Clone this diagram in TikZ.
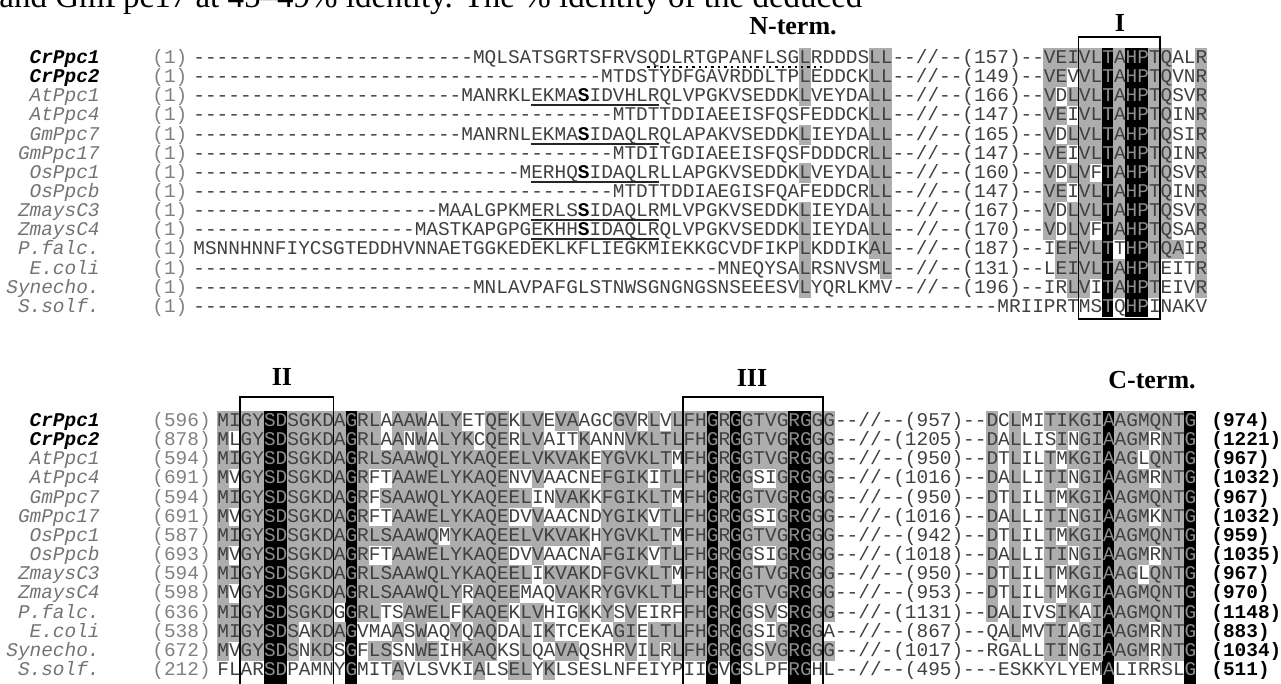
\documentclass[tikz,border=0pt]{standalone}
\usepackage{fontspec}
\setmainfont{Liberation Serif}
\setmonofont{Liberation Mono}
\usetikzlibrary{positioning}

\definecolor{seqtext}{gray}{0.25}
\definecolor{cellgray}{gray}{0.68}
\definecolor{labgray}{gray}{0.45}
\definecolor{numgray}{gray}{0.5}
\definecolor{idtext}{gray}{0.55}

\newcommand\seqfont{\ttfamily\fontsize{9.71}{10}\selectfont}
\newcommand\gap[1]{\ifnum#1>0 \foreach\g in {1,...,#1}{-}\fi}

% grey cells from a mask: g = shaded, . = plain (spaces are skipped)
\newcount\cellcol
\newcommand\graycells[4]{%
  \def\cellx{#1}\def\celly{#2}\cellcol=#3\relax
  \expandafter\cellscan#4\relax}
\def\cellscan#1{%
  \ifx#1\relax\else
    \if g#1\fill[cellgray] ({\cellx+(\the\cellcol-1)*\cw},{\celly-\rh/2}) rectangle ++(\cw+0.4,\rh+0.4);\fi
    \advance\cellcol by 1
    \expandafter\cellscan
  \fi}

% residues one by one: light on the identical columns, bold on the key serine
\newcount\rescol
\newcommand\residues[2]{\rescol=#1\relax\advance\rescol by 1
  \expandafter\reswalk#2\relax}
\def\reswalk#1{%
  \ifx#1\relax\else
    \ifnum\rescol=\keycol\relax{\bfseries\color{black}#1}%
    \else\ifcsname id\idblock\the\rescol\endcsname{\color{idtext}#1}\else#1\fi\fi
    \advance\rescol by 1
    \expandafter\reswalk
  \fi}
\def\keycol{0}

\begin{document}
\begin{tikzpicture}[x=0.5pt, y=-0.5pt,
    seq/.style={anchor=base west, inner sep=0pt, font=\seqfont, text=seqtext},
    num/.style={anchor=base west, inner sep=0pt, font=\seqfont, text=numgray},
    endnum/.style={anchor=base west, inner sep=0pt, font=\seqfont\bfseries, text=black},
    lab/.style={anchor=base east, inner sep=0pt, font=\seqfont\itshape, text=labgray},
    motif/.style={inner sep=0pt, font=\fontsize{13}{15}\selectfont\bfseries},
    motifbox/.style={draw=black, line width=0.9pt},
    motifline/.style={draw=black!85, line width=1pt},
    idcol/.style={fill=black}
]
\useasboundingbox (0,0) rectangle (1281,684);
\clip (0,0) rectangle (1281,684);
\def\cw{11.65}
\def\rh{19.15}
\def\bl{5.5}

% running text above the figure
\node[anchor=base west, inner sep=0pt, font=\fontsize{16.5}{18}\selectfont] (intro) at (-1,8)
  {and GmPpc17 at 45–49\% identity. The \% identity of the deduced};

% headings
\node[motif] (nterm) at (793,26) {N-term.};
\node[motif] (m1) at (1120,23) {I};
\node[motif] (m2) at (282,377) {II};
\node[motif] (m3) at (752,378) {III};
\node[motif] (cterm) at (1152,380) {C-term.};

% sequence names
\foreach \lab [count=\i] in {CrPpc1,CrPpc2,AtPpc1,AtPpc4,GmPpc7,GmPpc17,OsPpc1,OsPpcb,ZmaysC3,ZmaysC4,P.falc.,E.coli,Synecho.,S.solf.}{
  \ifnum\i<3 \tikzset{lab/.append style={font=\seqfont\bfseries\itshape, text=black}}\fi
  \node[lab] (labA\i) at (100,{58+(\i-1)*\rh+\bl}) {\lab};
  \node[lab] (labB\i) at (100,{421+(\i-1)*\rh+\bl}) {\lab};
  \node[num] (numA\i) at (152,{58+(\i-1)*\rh+\bl}) {(1)};
}

% identical columns
\foreach \c in {79,81,82}{
  \expandafter\gdef\csname idA\c\endcsname{}
  \fill[idcol] ({193+(\c-1)*\cw},{58-\rh/2}) rectangle ++(\cw,{14*\rh});
}
\foreach \c in {5,6,12,43,45,50,51,77,84}{
  \expandafter\gdef\csname idB\c\endcsname{}
  \fill[idcol] ({217+(\c-1)*\cw},{421-\rh/2}) rectangle ++(\cw,{15*\rh});
}

% block 1: N-terminus and motif I
\def\idblock{A}
\foreach \d/\k/\seq/\ma/\mb [count=\i] in {
  24/0/{MQLSATSGRTSFRVSQDLRTGPANFLSGLRDDDSLL--//--(157)--VEIVLTAHPTQALR}/{g.....gg}/{ggggg.g..gg..g},
  35/0/{MTDSTYDFGAVRDDLTPLEDDCKLL--//--(149)--VEVVLTAHPTQVNR}/{g.....gg}/{gg.gg.g..gg..g},
  23/34/{MANRKLEKMASIDVHLRQLVPGKVSEDDKLVEYDALL--//--(166)--VDLVLTAHPTQSVR}/{g.....gg}/{g.ggg.g..gg..g},
  36/0/{MTDTTDDIAEEISFQSFEDDCKLL--//--(147)--VEIVLTAHPTQINR}/{......gg}/{gg.gg.g..gg..g},
  23/34/{MANRNLEKMASIDAQLRQLAPAKVSEDDKLIEYDALL--//--(165)--VDLVLTAHPTQSIR}/{g.....gg}/{g.ggg.g..gg..g},
  36/0/{MTDITGDIAEEISFQSFDDDCRLL--//--(147)--VEIVLTAHPTQINR}/{......gg}/{gg.gg.g..gg..g},
  28/34/{MERHQSIDAQLRLLAPGKVSEDDKLVEYDALL--//--(160)--VDLVFTAHPTQSVR}/{g.....gg}/{g.gg..g..gg..g},
  36/0/{MTDTTDDIAEGISFQAFEDDCRLL--//--(147)--VEIVLTAHPTQINR}/{......gg}/{gg.gg.g..gg..g},
  21/34/{MAALGPKMERLSSIDAQLRMLVPGKVSEDDKLIEYDALL--//--(167)--VDLVLTAHPTQSVR}/{g.....gg}/{g.ggg.g..gg..g},
  19/34/{MASTKAPGPGEKHHSIDAQLRQLVPGKVSEDDKLIEYDALL--//--(170)--VDLVFTAHPTQSAR}/{g.....gg}/{g.gg..g..gg..g},
  0/0/{MSNNHNNFIYCSGTEDDHVNNAETGGKEDEKLKFLIEGKMIEKKGCVDFIKPLKDDIKAL--//--(187)--IEFVLTTHPTQAIR}/{g.....gg}/{.gggg....ggg.g},
  45/0/{MNEQYSALRSNVSML--//--(131)--LEIVLTAHPTEITR}/{g......g}/{.gggg.g..g...g},
  24/0/{MNLAVPAFGLSTNWSGNGNGSNSEEESVLYQRLKMV--//--(196)--IRLVITAHPTEIVR}/{g}/{..gg..g..g...g},
  69/0/{MRIIPRTMSTQHPINAKV}/{.}/{.}}{
  \pgfmathsetmacro\yc{58+(\i-1)*\rh}
  \def\keycol{\k}
  \graycells{193}{\yc}{53}{\ma}
  \graycells{193}{\yc}{74}{\mb}
  \node[seq] (seqA\i) at (193,{\yc+\bl}) {\gap{\d}\residues{\d}{\seq}};
}

% block 2: motifs II, III and C-terminus
\def\idblock{B}
\foreach \n/\seq/\ma/\mb/\e [count=\i] in {
  596/{MIGYSDSGKDAGRLAAAWALYETQEKLVEVAAGCGVRLVLFHGRGGTVGRGGG--//--(957)--DCLMITIKGIAAGMQNTG}/{gggg..gggg g.gg.ggg.g g..gg.gg.g g...gg.g.g gg.g.gggg. .gg}/{g.g..ggggg .gggggg.}/974,
  878/{MLGYSDSGKDAGRLAANWALYKCQERLVAITKANNVKLTLFHGRGGTVGRGGG--//-(1205)--DALLISINGIAAGMRNTG}/{g.gg..gggg g.gg.g.g.g gg.gg.gg.. .g...ggggg gg.g.gggg. .gg}/{g.g...g.gg .ggg.gg.}/1221,
  594/{MIGYSDSGKDAGRLSAAWQLYKAQEELVKVAKEYGVKLTMFHGRGGTVGRGGG--//--(950)--DTLILTMKGIAAGLQNTG}/{gggg..gggg g.gggggggg gggggggggg gg.gggggg. gg.g.gggg. .gg}/{g.g..g.ggg .gg.ggg.}/967,
  691/{MVGYSDSGKDAGRFTAAWELYKAQENVVAACNEFGIKITLFHGRGGSIGRGGG--//-(1016)--DALLITINGIAAGMRNTG}/{g.gg..gggg g.g..ggggg ggggg..g.. ...gggg.gg gg.g.g..g. .gg}/{g.g..gg.gg .ggg.gg.}/1032,
  594/{MIGYSDSGKDAGRFSAAWQLYKAQEELINVAKKFGIKLTMFHGRGGTVGRGGG--//--(950)--DTLILTMKGIAAGMQNTG}/{gggg..gggg g.g.gggggg ggggggg..g gg.gggggg. gg.g.gggg. .gg}/{g.g..g.ggg .gggggg.}/967,
  691/{MVGYSDSGKDAGRFTAAWELYKAQEDVVAACNDYGIKVTLFHGRGGSIGRGGG--//-(1016)--DALLITINGIAAGMKNTG}/{g.gg..gggg g.g..ggggg ggggg..g.. ...gggg.gg gg.g.g..g. .gg}/{g.g..gg.gg .ggg.gg.}/1032,
  587/{MIGYSDSGKDAGRLSAAWQMYKAQEELVKVAKHYGVKLTMFHGRGGTVGRGGG--//--(942)--DTLILTMKGIAAGMQNTG}/{gggg..gggg g.ggggggg. gggggggggg gg.gggggg. gg.g.gggg. .gg}/{g.g..g.ggg .gggggg.}/959,
  693/{MVGYSDSGKDAGRFTAAWELYKAQEDVVAACNAFGIKVTLFHGRGGSIGRGGG--//-(1018)--DALLITINGIAAGMRNTG}/{g.gg..gggg g.g..ggggg ggggg..g.. ...gggg.gg gg.g.g..g. .gg}/{g.g..gg.gg .ggg.gg.}/1035,
  594/{MIGYSDSGKDAGRLSAAWQLYKAQEELIKVAKDFGVKLTMFHGRGGTVGRGGG--//--(950)--DTLILTMKGIAAGLQNTG}/{gggg..gggg g.gggggggg ggggggg.gg gg.gggggg. gg.g.gggg. .gg}/{g.g..g.ggg .gg.ggg.}/967,
  598/{MVGYSDSGKDAGRLSAAWQLYRAQEEMAQVAKRYGVKLTLFHGRGGTVGRGGG--//--(953)--DTLILTMKGIAAGMQNTG}/{g.gg..gggg g.gggggggg g.gggg...g gg.ggggggg gg.g.gggg. .gg}/{g.g..g.ggg .gggggg.}/970,
  636/{MIGYSDSGKDGGRLTSAWELFKAQEKLVHIGKKYSVEIRFFHGRGGSVSRGGG--//-(1131)--DALIVSIKAIAAGMQNTG}/{gggg..gggg ..gg..gggg .gggg.gg.. .g.g.g.... gg.g.g.g.. .gg}/{g.g...gg.g .gggggg.}/1148,
  538/{MIGYSDSAKDAGVMAASWAQYQAQDALIKTCEKAGIELTLFHGRGGSIGRGGA--//--(867)--QALMVTIAGIAAGMRNTG}/{gggg..g.gg g....g.g.. g.gg..g.g. ....gg.ggg gg.g.g..g. .g.}/{..g..gg.gg .ggg.gg.}/883,
  672/{MVGYSDSNKDSGFLSSNWEIHKAQKSLQAVAQSHRVILRLFHGRGGSVGRGGG--//-(1017)--RGALLTINGIAAGMRNTG}/{g.gg..g.gg ...gg..gg. .ggg..g..g g....g.g.g gg.g.g.gg. .gg}/{.....gg.gg .ggg.gg.}/1034,
  212/{FLARSDPAMNYGMITAVLSVKIALSELYKLSESLNFEIYPIIGVGSLPFRGHL--//--(495)---ESKKYLYEMALIRRSLG}/{.......... .....g.... ..g..gg.g.}/{.}/511}{
  \pgfmathsetmacro\yc{421+(\i-1)*\rh}
  \graycells{217}{\yc}{1}{\ma}
  \graycells{217}{\yc}{67}{\mb}
  \node[num] (numB\i) at (152,{\yc+\bl}) {(\n)};
  \node[seq] (seqB\i) at (217,{\yc+\bl}) {\residues{0}{\seq}};
  \node[endnum] (endB\i) at (1211,{\yc+\bl}) {(\e)};
}

% phosphorylation motif
\foreach \r in {3,5,7,9,10}
  \draw[motifline] ({193+29*\cw},{58+(\r-1)*\rh+9}) -- ++({11*\cw},0);
\draw[black, dotted, line width=1.2pt] ({193+39*\cw},{58+9}) -- ++({15*\cw},0);

% motif boxes
\draw[motifbox] ({193+76*\cw},37) rectangle ({193+83*\cw},319);
\draw[motifbox] ({217+2*\cw},690) |- ({217+10*\cw},397) -- ({217+10*\cw},690);
\draw[motifbox] ({217+40*\cw},690) |- ({217+52*\cw},397) -- ({217+52*\cw},690);

\end{tikzpicture}
\end{document}
